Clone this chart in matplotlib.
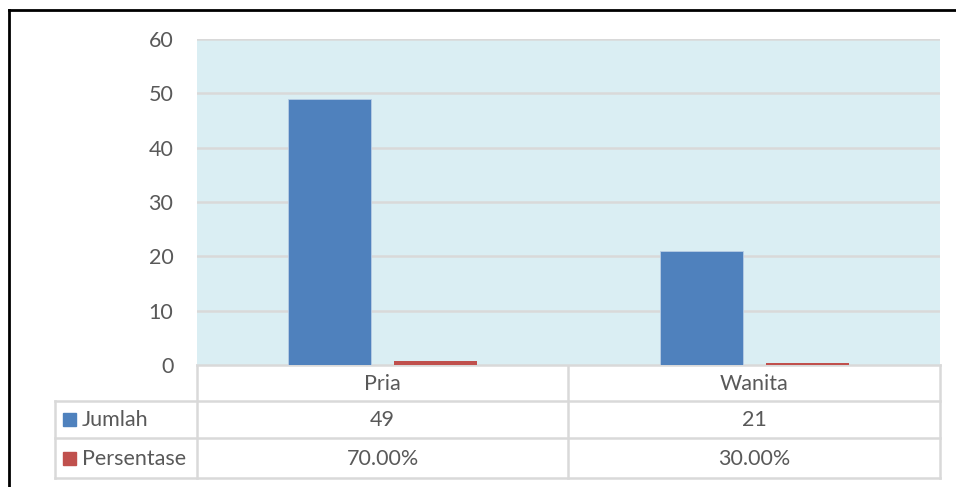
import matplotlib
matplotlib.use("Agg")
import matplotlib.pyplot as plt
from matplotlib.patches import Rectangle

plt.rcParams['font.family'] = ['Lato', 'DejaVu Sans']

categories = ['Pria', 'Wanita']
series_names = ['Jumlah', 'Persentase']
jumlah = [49, 21]
persentase = [0.70, 0.30]
yticks = [0, 10, 20, 30, 40, 50, 60]

BLUE = '#4F81BD'
RED = '#C0504D'
BG = '#DAEEF3'
GRID = '#D9D9D9'
TXT = '#595959'
FS = 15.5

W, H = 956, 487
fig = plt.figure(figsize=(W / 100, H / 100), dpi=100)

# overlay axes in pixel coordinates for table and border
ov = fig.add_axes([0, 0, 1, 1])
ov.set_xlim(0, W)
ov.set_ylim(H, 0)
ov.axis('off')

# main plot axes
L, R, T, B = 197, 940, 39, 365
ax = fig.add_axes([L / W, 1 - B / H, (R - L) / W, (B - T) / H])
ax.set_facecolor(BG)
x = list(range(len(categories)))
off, bw = 0.143, 0.224
ax.bar([i - off for i in x], jumlah, width=bw, color=BLUE, edgecolor='#B9CDE5', linewidth=0.6, zorder=3)
ax.bar([i + off for i in x], persentase, width=bw, color=RED, zorder=3)
ax.set_xlim(-0.5, len(categories) - 0.5)
ax.set_ylim(0, 60)
ax.set_yticks(yticks)
ax.set_yticklabels([str(v) for v in yticks], fontsize=FS, color=TXT)
ax.tick_params(axis='y', length=0, pad=17)
ax.set_xticks([])
ax.grid(axis='y', color=GRID, linewidth=1.8, zorder=1)
for s in ax.spines.values():
    s.set_visible(False)

# data table
lc = dict(color=GRID, linewidth=1.8)
col_edges = [L, (L + R) / 2, R]
row_edges = [B, 401, 438, 478]
lab_left = 55
ov.plot([L, R], [B, B], **lc)
for y in row_edges[1:]:
    ov.plot([lab_left, R], [y, y], **lc)
for xv in col_edges:
    ov.plot([xv, xv], [B, row_edges[-1]], **lc)
ov.plot([lab_left, lab_left], [row_edges[1], row_edges[-1]], **lc)

for i, c in enumerate(categories):
    cx = (col_edges[i] + col_edges[i + 1]) / 2
    ov.text(cx, (row_edges[0] + row_edges[1]) / 2 + 1, c, ha='center', va='center', fontsize=FS, color=TXT)
    ov.text(cx, (row_edges[1] + row_edges[2]) / 2 + 1, str(jumlah[i]), ha='center', va='center', fontsize=FS, color=TXT)
    ov.text(cx, (row_edges[2] + row_edges[3]) / 2 + 1, f"{persentase[i] * 100:.2f}%", ha='center', va='center', fontsize=FS, color=TXT)

for j, (name, col) in enumerate(zip(series_names, [BLUE, RED])):
    cy = (row_edges[j + 1] + row_edges[j + 2]) / 2
    ov.add_patch(Rectangle((63, cy - 6.5), 13, 13, color=col))
    ov.text(82, cy + 1, name, ha='left', va='center', fontsize=FS, color=TXT)

# outer border (top and left)
ov.plot([9, 9], [10, H + 2], color='black', linewidth=2)
ov.plot([9, W + 2], [10, 10], color='black', linewidth=2)

fig.savefig('out.png', dpi=100)
